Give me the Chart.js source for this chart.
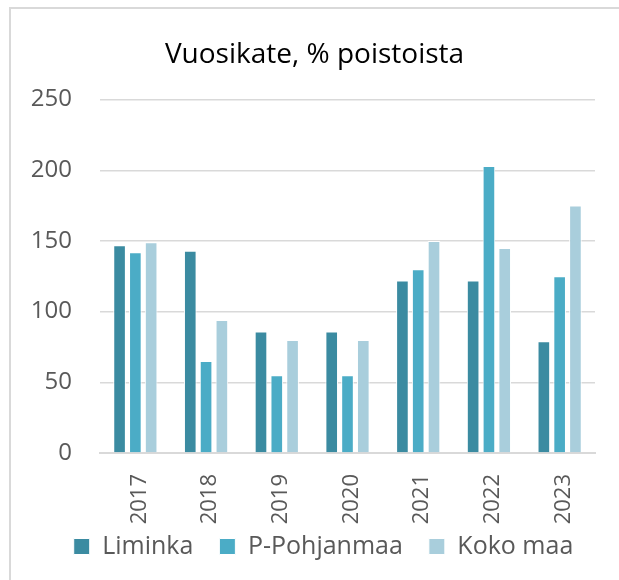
<!DOCTYPE html>
<html>
<head>
<meta charset="utf-8">
<title>Vuosikate, % poistoista</title>
<script src="https://cdn.jsdelivr.net/npm/chart.js@4.4.1/dist/chart.umd.min.js"></script>
<style>
    html, body { margin: 0; padding: 0; background: #fff; }
    #wrap { position: relative; width: 619px; height: 580px; overflow: hidden; }
    #frame {
        position: absolute; left: 9px; top: 7px; width: 700px; height: 700px;
        border-left: 2px solid #d9d9d9; border-top: 2px solid #d9d9d9;
    }
    canvas { position: absolute; left: 0; top: 0; }
</style>
</head>
<body>
<div id="wrap">
    <div id="frame"></div>
    <canvas id="chart" width="619" height="580"></canvas>
</div>
<script>
// Data
const years = ['2017', '2018', '2019', '2020', '2021', '2022', '2023'];
const liminka = [147, 143, 86, 86, 122, 122, 79];
const pPohjanmaa = [142, 65, 55, 55, 130, 203, 125];
const kokoMaa = [149, 94, 80, 80, 150, 145, 175];
const yTicks = [0, 50, 100, 150, 200, 250];

const FONT = "'Open Sans', 'Noto Sans', sans-serif";
const GRAY = '#595959';

// Siirtää otsikkoa ja legendaa kuten alkuperäisessä
const boxShift = {
    id: 'boxShift',
    afterLayout(chart) {
        if (chart.titleBlock) {
            chart.titleBlock.left += 12;
            chart.titleBlock.right += 12;
        }
        if (chart.legend) {
            chart.legend.left += 21;
            chart.legend.right += 21;
            chart.legend.top -= 20;
            chart.legend.bottom -= 20;
        }
    }
};

function dataset(label, data, color) {
    return {
        label: label,
        data: data,
        backgroundColor: color,
        borderColor: '#ffffff',
        borderWidth: 1,
        categoryPercentage: 0.67,
        barPercentage: 0.8
    };
}

new Chart(document.getElementById('chart'), {
    type: 'bar',
    data: {
        labels: years,
        datasets: [
            dataset('Liminka', liminka, '#3b8ba1'),
            dataset('P-Pohjanmaa', pPohjanmaa, '#4bacc6'),
            dataset('Koko maa', kokoMaa, '#a9cedc')
        ]
    },
    plugins: [boxShift],
    options: {
        responsive: false,
        animation: false,
        layout: {
            padding: { left: 10, right: 24, top: 0, bottom: -9 }
        },
        plugins: {
            title: {
                display: true,
                text: 'Vuosikate, % poistoista',
                color: '#000000',
                font: { family: FONT, size: 28, weight: 'normal' },
                padding: { top: 38, bottom: 28 }
            },
            legend: {
                display: true,
                position: 'bottom',
                labels: {
                    color: GRAY,
                    boxWidth: 16,
                    boxHeight: 16,
                    padding: 26,
                    font: { family: FONT, size: 25 }
                }
            },
            tooltip: { enabled: false }
        },
        scales: {
            x: {
                afterFit(scale) {
                    scale.height = 75;
                },
                grid: { display: false },
                border: { display: true, color: '#d9d9d9', width: 2 },
                ticks: {
                    color: GRAY,
                    font: { family: FONT, size: 22 },
                    minRotation: 90,
                    maxRotation: 90,
                    padding: 13,
                    labelOffset: 4
                }
            },
            y: {
                min: 0,
                max: 250,
                afterBuildTicks(axis) {
                    axis.ticks = yTicks.map(v => ({ value: v }));
                },
                afterFit(scale) {
                    scale.width = 90;
                },
                grid: { color: '#d9d9d9', lineWidth: 1.5, drawTicks: false },
                border: { display: false },
                ticks: {
                    color: GRAY,
                    font: { family: FONT, size: 24 },
                    padding: 28
                }
            }
        }
    }
});
</script>
</body>
</html>
